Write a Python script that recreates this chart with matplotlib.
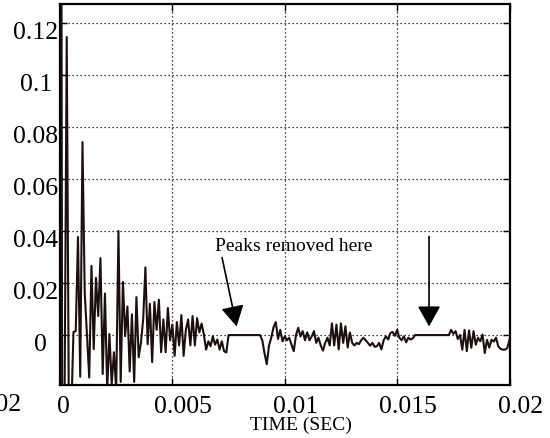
import numpy as np
import matplotlib
matplotlib.use('Agg')
import matplotlib.pyplot as plt
from matplotlib.transforms import ScaledTranslation
from matplotlib.patches import ArrowStyle

# ---------------- data ----------------
dt = 0.0001  # sample spacing (s)
signal = [
    0.5, -0.05, -0.03, 0.1146, -0.04, -0.03, 0.0012, 0.0015, 0.0377, -0.016,
    0.0742, 0.0165, 0.0, -0.0163, 0.0266, -0.0054, 0.022, 0.0073, 0.0296, -0.015,
    0.016, -0.021, 0.0004, -0.019, -0.0066, -0.021, 0.040, -0.018, 0.0204, -0.0004,
    0.011, -0.014, 0.008, -0.018, 0.0146, -0.0085, -0.003, 0.006, 0.026, -0.0035,
    0.012, -0.0104, 0.0127, 0.002, 0.0136, -0.0066, 0.006, -0.0066, 0.0104, -0.002,
    0.004, -0.008, 0.005, -0.004, 0.0077, -0.008, 0.002, 0.006, -0.004, 0.0073,
    -0.004, 0.0065, 0.001, 0.0044, 0.0003, -0.0056, -0.0024, -0.0043, -0.0005, -0.0037,
    -0.0017, -0.0056, -0.0024, -0.0062, -0.0067, 0.0, 0.0, 0.0, 0.0, 0.0,
    0.0, 0.0, 0.0, 0.0, 0.0, 0.0, 0.0, 0.0, 0.0, 0.0,
    -0.002, -0.007, -0.0112, -0.004, -0.001, 0.003, 0.005, -0.0015, 0.002, -0.0024,
    -0.0005, -0.002, -0.001, -0.0037, -0.0062, 0.0, 0.0028, -0.0005, 0.0015, -0.002,
    0.001, -0.002, -0.0005, 0.0015, -0.003, -0.001, -0.004, -0.006, -0.003, -0.001,
    -0.004, 0.0045, -0.004, 0.004, -0.0055, 0.0045, -0.003, 0.0034, -0.0048, 0.001,
    -0.003, -0.004, -0.003, -0.0035, -0.002, -0.001, -0.002, -0.003, -0.0041, -0.003,
    -0.0045, -0.0043, -0.003, -0.0055, -0.002, -0.0005, -0.0017, 0.0008, 0.0012, -0.0003,
    0.002, -0.001, -0.002, -0.0005, -0.0028, -0.001, -0.0017, -0.0012, 0.0, 0.0,
    0.0, 0.0, 0.0, 0.0, 0.0, 0.0, 0.0, 0.0, 0.0, 0.0,
    0.0, 0.0, 0.0, 0.0, 0.002, 0.0005, 0.0015, -0.0015, 0.0, -0.0056,
    0.002, -0.0062, 0.0018, -0.0049, 0.0015, -0.0037, -0.001, -0.0024, 0.0002, -0.0069,
    -0.0018, -0.0048, -0.0018, -0.0025, -0.001, -0.0043, -0.0053, -0.0056, -0.0056, -0.005,
    -0.0017,
]
time = np.arange(len(signal)) * dt

xticks = [0, 0.005, 0.01, 0.015, 0.02]
xticklabels = ['0', '0.005', '0.01', '0.015', '0.02']
yticks = [0, 0.02, 0.04, 0.06, 0.08, 0.1, 0.12]
yticklabels = ['0', '0.02', '0.04', '0.06', '0.08', '0.1', '0.12']
xlabel = 'TIME (SEC)'
stray_label = '0.02'

annotation_text = 'Peaks removed here'
annotation_xy = (0.01041, 0.0345)
arrow_tails = [(0.00721, 0.0298), (0.01642, 0.0379)]
arrow_heads = [(0.00786, 0.0033), (0.01642, 0.0033)]

# ---------------- figure ----------------
plt.rcParams['font.family'] = ['Liberation Serif', 'DejaVu Serif']
W, H = 550, 439
fig = plt.figure(figsize=(W / 100, H / 100), dpi=100)
ax = fig.add_axes([60 / W, 53 / H, 449.5 / W, 381 / H])

ax.plot(time, signal, color='#1e0f0f', lw=1.5, zorder=3)

ax.set_xlim(0, 0.02)
ax.set_ylim(-0.0192, 0.1273)

ax.set_xticks(xticks)
ax.set_xticklabels(xticklabels)
ax.set_yticks(yticks)
ax.set_yticklabels(yticklabels, ha='center', va='center')

ax.grid(True, color='black', linestyle=(0, (1, 2.2)), linewidth=0.9, zorder=1)
ax.tick_params(direction='in', length=5, width=1, top=True, right=True,
               labelsize=18.5, colors='black')
ax.tick_params(axis='x', pad=7)
ax.tick_params(axis='y', pad=17.3)
for sp in ax.spines.values():
    sp.set_linewidth(1.6)
    sp.set_color('black')

# tick-label offsets to mimic the reference rendering
x_offsets_px = [3, 11, 11, 11, 11]
for lab, dx in zip(ax.get_xticklabels(), x_offsets_px):
    lab.set_transform(lab.get_transform() + ScaledTranslation(dx / 100, 0, fig.dpi_scale_trans))
y_offsets_px = [4, 0, 0, 0, 0, 0, 0]
for lab, dx in zip(ax.get_yticklabels(), y_offsets_px):
    lab.set_transform(lab.get_transform() + ScaledTranslation(dx / 100, -9 / 100, fig.dpi_scale_trans))

ax.set_xlabel(xlabel, fontsize=14)
ax.xaxis.set_label_coords(0.536, -0.08)

ax.text(annotation_xy[0], annotation_xy[1], annotation_text, fontsize=14,
        ha='center', va='center', zorder=5)
style = ArrowStyle('-|>', head_length=0.9, head_width=0.5)
for tail, head in zip(arrow_tails, arrow_heads):
    ax.annotate('', xy=head, xytext=tail,
                arrowprops=dict(arrowstyle=style, mutation_scale=14, color='black',
                                lw=1.2, shrinkA=0, shrinkB=0), zorder=5)

fig.text(21 / W, (H - 405) / H, stray_label, fontsize=18.5, ha='right', va='center')

fig.savefig('out.png', dpi=100)
